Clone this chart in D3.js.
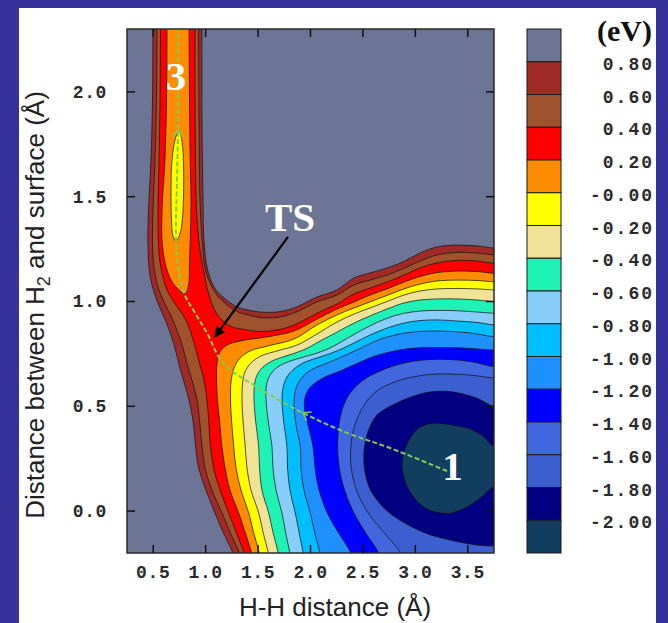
<!DOCTYPE html>
<html>
<head>
<meta charset="utf-8">
<script src="https://cdn.jsdelivr.net/npm/d3@7"></script>
<style>
  body { margin: 0; background: #35339a; }
  svg { display: block; }
</style>
</head>
<body>
<svg id="drawing_region"></svg>
<script>
// ---- data (in Å / eV) ----
const xTicks = [0.5, 1.0, 1.5, 2.0, 2.5, 3.0, 3.5];
const yTicks = [0.0, 0.5, 1.0, 1.5, 2.0];
const cbLevels = [0.8, 0.6, 0.4, 0.2, 0.0, -0.2, -0.4, -0.6, -0.8, -1.0, -1.2, -1.4, -1.6, -1.8, -2.0];
const cbLabels = ["0.80", "0.60", "0.40", "0.20", "-0.00", "-0.20", "-0.40", "-0.60", "-0.80",
                  "-1.00", "-1.20", "-1.40", "-1.60", "-1.80", "-2.00"];
// band colours, highest band (> 0.8 eV) first
const bandColors = ["#6c7596", "#a02a28", "#a0522d", "#ff0000", "#ff8c00", "#ffff00", "#f0e396",
                    "#1ef2b4", "#87cefa", "#00bfff", "#1e90ff", "#0000ff", "#4166dd", "#3b5fd0",
                    "#000080", "#113d5e"];

// contour lines [H-H distance, height]
const c080_left = [[0.498,2.36],[0.493,1.961],[0.479,1.675],[0.455,1.436],[0.450,1.269],[0.469,1.126],[0.527,1.017],[0.603,0.926],[0.670,0.840],[0.717,0.759],[0.755,0.683],[0.794,0.616],[0.841,0.530],[0.879,0.435],[0.903,0.315],[0.927,0.220],[0.975,0.139],[1.032,0.062],[1.089,-0.009],[1.166,-0.100],[1.261,-0.200],[1.299,-0.26]];
const c080_right = [[3.82,1.255],[3.750,1.255],[3.588,1.265],[3.397,1.269],[3.207,1.260],[3.044,1.231],[2.892,1.191],[2.730,1.160],[2.567,1.136],[2.415,1.112],[2.253,1.055],[2.062,1.021],[1.843,0.969],[1.681,0.950],[1.518,0.950],[1.404,0.959],[1.299,0.974],[1.175,1.017],[1.080,1.069],[1.013,1.164],[0.984,1.293],[0.975,1.484],[0.965,1.866],[0.965,2.36]];
const c060_left = [[0.536,2.36],[0.531,1.961],[0.517,1.675],[0.498,1.436],[0.493,1.269],[0.508,1.160],[0.546,1.069],[0.603,0.998],[0.679,0.921],[0.736,0.850],[0.784,0.778],[0.822,0.702],[0.870,0.625],[0.918,0.530],[0.946,0.411],[0.965,0.306],[0.994,0.206],[1.042,0.124],[1.099,0.053],[1.156,-0.009],[1.232,-0.100],[1.323,-0.200],[1.361,-0.26]];
const c060_right = [[3.82,1.222],[3.750,1.222],[3.588,1.231],[3.397,1.234],[3.207,1.222],[3.044,1.193],[2.892,1.158],[2.730,1.126],[2.567,1.102],[2.415,1.079],[2.253,1.031],[2.062,0.998],[1.843,0.945],[1.681,0.924],[1.518,0.924],[1.404,0.936],[1.299,0.952],[1.194,0.988],[1.108,1.031],[1.042,1.088],[0.994,1.160],[0.970,1.269],[0.946,1.484],[0.937,1.866],[0.932,2.36]];
const c040_left = [[0.570,2.36],[0.565,1.961],[0.555,1.675],[0.546,1.436],[0.550,1.269],[0.574,1.160],[0.632,1.055],[0.717,0.983],[0.803,0.921],[0.860,0.850],[0.908,0.768],[0.946,0.697],[0.984,0.625],[1.013,0.530],[1.032,0.411],[1.046,0.306],[1.080,0.196],[1.137,0.100],[1.220,-0.009],[1.290,-0.100],[1.366,-0.200],[1.399,-0.26]];
const c040_right = [[3.82,1.182],[3.750,1.182],[3.588,1.193],[3.397,1.196],[3.207,1.184],[3.044,1.160],[2.892,1.126],[2.730,1.093],[2.567,1.064],[2.415,1.036],[2.253,0.988],[2.110,0.955],[1.995,0.926],[1.843,0.888],[1.681,0.864],[1.518,0.857],[1.375,0.866],[1.232,0.883],[1.108,0.940],[1.032,1.031],[0.989,1.126],[0.946,1.246],[0.913,1.436],[0.903,1.675],[0.899,1.961],[0.899,2.36]];
const c020_chan = [[0.632,2.36],[0.627,1.961],[0.612,1.675],[0.584,1.436],[0.584,1.293],[0.612,1.188],[0.670,1.102],[0.746,1.055],[0.803,1.036],[0.837,1.079],[0.846,1.198],[0.856,1.341],[0.860,1.484],[0.851,1.723],[0.846,1.961],[0.841,2.36]];
const c020_low = [[1.466,-0.26],[1.439,-0.200],[1.375,-0.100],[1.315,-0.009],[1.232,0.100],[1.185,0.206],[1.156,0.306],[1.132,0.435],[1.113,0.530],[1.104,0.625],[1.108,0.702],[1.137,0.759],[1.204,0.792],[1.356,0.814],[1.585,0.831],[1.843,0.859],[2.062,0.916],[2.253,0.964],[2.415,0.998],[2.567,1.031],[2.730,1.060],[2.892,1.093],[3.044,1.119],[3.207,1.138],[3.397,1.145],[3.588,1.143],[3.750,1.134],[3.82,1.134]];
const c000_chan = [[0.746,1.813],[0.775,1.761],[0.789,1.651],[0.789,1.508],[0.779,1.398],[0.755,1.322],[0.717,1.288],[0.689,1.312],[0.674,1.389],[0.670,1.508],[0.674,1.637],[0.693,1.732],[0.722,1.794]];
const c000_low = [[1.537,-0.26],[1.512,-0.200],[1.456,-0.100],[1.411,-0.009],[1.337,0.100],[1.290,0.206],[1.268,0.306],[1.247,0.435],[1.237,0.530],[1.242,0.616],[1.271,0.683],[1.328,0.730],[1.423,0.764],[1.595,0.788],[1.843,0.821],[2.062,0.888],[2.253,0.936],[2.415,0.969],[2.567,0.998],[2.730,1.029],[2.892,1.060],[3.044,1.083],[3.207,1.098],[3.397,1.102],[3.588,1.100],[3.750,1.094],[3.82,1.094]];
const cm020 = [[1.623,-0.26],[1.598,-0.200],[1.547,-0.100],[1.506,-0.009],[1.433,0.100],[1.394,0.206],[1.378,0.306],[1.356,0.435],[1.347,0.530],[1.352,0.611],[1.375,0.664],[1.433,0.707],[1.528,0.740],[1.681,0.764],[1.871,0.792],[2.062,0.845],[2.253,0.902],[2.415,0.940],[2.567,0.969],[2.730,1.000],[2.892,1.031],[3.044,1.050],[3.207,1.060],[3.397,1.062],[3.588,1.060],[3.750,1.055],[3.82,1.055]];
const cm040 = [[1.719,-0.26],[1.693,-0.200],[1.642,-0.100],[1.601,-0.009],[1.537,0.100],[1.514,0.206],[1.506,0.306],[1.476,0.435],[1.461,0.530],[1.466,0.602],[1.490,0.649],[1.547,0.687],[1.633,0.716],[1.766,0.740],[1.929,0.768],[2.091,0.811],[2.253,0.854],[2.415,0.897],[2.567,0.931],[2.730,0.964],[2.892,0.993],[3.044,1.007],[3.207,1.012],[3.397,1.012],[3.588,1.007],[3.750,0.999],[3.82,0.999]];
const cm060 = [[1.833,-0.26],[1.804,-0.200],[1.762,-0.100],[1.728,-0.009],[1.671,0.100],[1.642,0.206],[1.633,0.306],[1.595,0.435],[1.576,0.530],[1.576,0.587],[1.600,0.635],[1.652,0.673],[1.738,0.702],[1.871,0.726],[2.033,0.749],[2.186,0.778],[2.339,0.821],[2.491,0.864],[2.644,0.902],[2.806,0.933],[2.968,0.950],[3.140,0.957],[3.330,0.957],[3.521,0.952],[3.750,0.944],[3.82,0.944]];
const cm080 = [[1.957,-0.26],[1.931,-0.200],[1.890,-0.100],[1.855,-0.009],[1.804,0.100],[1.781,0.206],[1.776,0.306],[1.743,0.435],[1.728,0.530],[1.738,0.587],[1.776,0.640],[1.843,0.678],[1.948,0.711],[2.091,0.735],[2.253,0.764],[2.415,0.802],[2.567,0.840],[2.730,0.873],[2.892,0.897],[3.044,0.909],[3.207,0.912],[3.397,0.907],[3.588,0.900],[3.750,0.888],[3.82,0.888]];
const cm100 = [[2.119,-0.26],[2.091,-0.200],[2.038,-0.100],[1.998,-0.009],[1.938,0.100],[1.909,0.206],[1.903,0.306],[1.862,0.411],[1.843,0.506],[1.857,0.578],[1.900,0.625],[1.967,0.661],[2.062,0.687],[2.186,0.711],[2.339,0.745],[2.491,0.780],[2.644,0.816],[2.806,0.840],[2.968,0.854],[3.140,0.859],[3.330,0.857],[3.521,0.850],[3.750,0.832],[3.82,0.832]];
const cm120 = [[2.420,-0.26],[2.385,-0.200],[2.262,-0.100],[2.160,-0.009],[2.082,0.100],[2.043,0.206],[2.024,0.306],[1.976,0.411],[1.945,0.480],[1.945,0.535],[1.980,0.580],[2.043,0.611],[2.138,0.640],[2.281,0.668],[2.434,0.702],[2.587,0.735],[2.758,0.759],[2.949,0.776],[3.140,0.780],[3.330,0.780],[3.521,0.776],[3.750,0.768],[3.82,0.768]];
const cm140 = [[2.680,-0.26],[2.650,-0.200],[2.520,-0.100],[2.400,0.005],[2.310,0.124],[2.265,0.244],[2.262,0.363],[2.300,0.482],[2.377,0.563],[2.491,0.621],[2.644,0.664],[2.806,0.695],[2.968,0.714],[3.140,0.723],[3.330,0.723],[3.521,0.714],[3.750,0.689],[3.82,0.689]];
const cm160 = [[2.900,-0.26],[2.860,-0.200],[2.720,-0.114],[2.565,-0.019],[2.445,0.091],[2.385,0.220],[2.392,0.339],[2.440,0.435],[2.525,0.516],[2.634,0.573],[2.777,0.611],[2.949,0.637],[3.140,0.652],[3.330,0.654],[3.521,0.649],[3.750,0.635],[3.82,0.635]];
const cm180 = [[3.82,0.497],[3.750,0.498],[3.588,0.538],[3.333,0.570],[3.140,0.568],[3.016,0.554],[2.825,0.516],[2.634,0.458],[2.548,0.377],[2.510,0.282],[2.520,0.187],[2.577,0.096],[2.711,0.010],[2.882,-0.052],[3.092,-0.104],[3.330,-0.138],[3.588,-0.162],[3.750,-0.167],[3.82,-0.167]];
const cm200 = [[3.82,0.307],[3.750,0.307],[3.652,0.355],[3.521,0.392],[3.429,0.403],[3.292,0.415],[3.175,0.419],[3.044,0.401],[2.984,0.371],[2.911,0.311],[2.873,0.228],[2.892,0.158],[2.949,0.091],[3.044,0.034],[3.159,0.000],[3.330,-0.011],[3.474,0.015],[3.598,0.053],[3.750,0.116],[3.82,0.116]];

// reaction path from minimum 1 through TS up to 3
const pathPts = [[3.302,0.191],[2.758,0.301],[2.348,0.373],[1.929,0.468],[1.490,0.592],[1.166,0.707],[1.013,0.850],[0.899,0.945],[0.794,1.040],[0.736,1.174],[0.717,1.308],[0.727,1.580],[0.736,1.818],[0.736,2.057],[0.736,2.300]];
const pathArrowAt = [3, 12];   // indices of the chevrons
const labels = [{t: "1", x: 3.354, y: 0.148}, {t: "3", x: 0.717, y: 2.009}, {t: "TS", x: 1.805, y: 1.336}];
const tsArrow = [[1.785, 1.308], [1.089, 0.831]];

// ---- layout ----
const W = 668, H = 623;
const plot = {left: 127, right: 494, top: 29, bottom: 553};
const cb = {left: 527, right: 561};

const svg = d3.select("#drawing_region").attr("width", W).attr("height", H);
svg.append("rect").attr("width", W).attr("height", H).attr("fill", "#35339a");
svg.append("rect").attr("x", 19).attr("y", 8).attr("width", 637).attr("height", 615).attr("fill", "#ffffff");

const xscale = d3.scaleLinear().domain([0.25, 3.75]).range([plot.left, plot.right]);
const yscale = d3.scaleLinear().domain([-0.2, 2.3]).range([plot.bottom, plot.top]);

svg.append("clipPath").attr("id", "clip").append("rect")
    .attr("x", plot.left).attr("y", plot.top)
    .attr("width", plot.right - plot.left).attr("height", plot.bottom - plot.top);

const chart = svg.append("g").attr("clip-path", "url(#clip)");

const line = d3.line().x(d => xscale(d[0])).y(d => yscale(d[1])).curve(d3.curveCatmullRom.alpha(0.5));
const closedLine = d3.line().x(d => xscale(d[0])).y(d => yscale(d[1])).curve(d3.curveCatmullRomClosed.alpha(0.5));
const corner = `L${xscale(4.2)},${yscale(-0.5)}`;

// region E < level, painted from the highest level down
const regions = [
    {c: bandColors[1], type: "lr", parts: [c080_left, c080_right]},
    {c: bandColors[2], type: "lr", parts: [c060_left, c060_right]},
    {c: bandColors[3], type: "lr", parts: [c040_left, c040_right]},
    {c: bandColors[4], type: "edge", parts: [c020_chan]},
    {c: bandColors[4], type: "low", parts: [c020_low]},
    {c: bandColors[5], type: "closed", parts: [c000_chan]},
    {c: bandColors[5], type: "low", parts: [c000_low]},
    {c: bandColors[6], type: "low", parts: [cm020]},
    {c: bandColors[7], type: "low", parts: [cm040]},
    {c: bandColors[8], type: "low", parts: [cm060]},
    {c: bandColors[9], type: "low", parts: [cm080]},
    {c: bandColors[10], type: "low", parts: [cm100]},
    {c: bandColors[11], type: "low", parts: [cm120]},
    {c: bandColors[12], type: "low", parts: [cm140]},
    {c: bandColors[13], type: "low", parts: [cm160]},
    {c: bandColors[14], type: "edge", parts: [cm180]},
    {c: bandColors[15], type: "edge", parts: [cm200]}
];

function regionPath(r) {
    if (r.type === "lr") return line(r.parts[0]) + corner + line(r.parts[1]).replace(/^M/, "L") + "Z";
    if (r.type === "low") return line(r.parts[0]) + corner + "Z";
    if (r.type === "edge") return line(r.parts[0]) + "Z";
    return closedLine(r.parts[0]);
}

chart.append("rect")
    .attr("x", plot.left).attr("y", plot.top)
    .attr("width", plot.right - plot.left).attr("height", plot.bottom - plot.top)
    .attr("fill", bandColors[0]);

chart.selectAll("path.band").data(regions).enter().append("path")
    .attr("class", "band")
    .attr("d", regionPath)
    .attr("fill", d => d.c);

// thin black contour lines
regions.forEach(r => {
    r.parts.forEach(p => {
        chart.append("path")
            .attr("d", r.type === "closed" ? closedLine(p) : line(p))
            .attr("fill", "none")
            .attr("stroke", "#111")
            .attr("stroke-opacity", 0.8)
            .attr("stroke-width", 0.9);
    });
});

// reaction path
const pathLine = d3.line().x(d => xscale(d[0])).y(d => yscale(d[1])).curve(d3.curveCatmullRom);
chart.append("path")
    .attr("d", pathLine(pathPts))
    .attr("fill", "none")
    .attr("stroke", "#84cc52")
    .attr("stroke-width", 2)
    .attr("stroke-dasharray", "5,2.5");

pathArrowAt.forEach(i => {
    const p = pathPts[i], q = pathPts[i + 1];
    const px = xscale(p[0]), py = yscale(p[1]);
    const ang = Math.atan2(yscale(q[1]) - py, xscale(q[0]) - px);
    chart.append("path")
        .attr("d", "M-7,-5L0,0L-7,5")
        .attr("transform", `translate(${px},${py}) rotate(${ang * 180 / Math.PI})`)
        .attr("fill", "none")
        .attr("stroke", "#84cc52")
        .attr("stroke-width", 1.6);
});

// TS arrow
svg.append("defs").append("marker")
    .attr("id", "head").attr("viewBox", "0 0 10 10")
    .attr("refX", 9).attr("refY", 5)
    .attr("markerWidth", 5).attr("markerHeight", 5)
    .attr("orient", "auto")
    .append("path").attr("d", "M0,0L10,5L0,10Z").attr("fill", "#000");

chart.append("line")
    .attr("x1", xscale(tsArrow[0][0])).attr("y1", yscale(tsArrow[0][1]))
    .attr("x2", xscale(tsArrow[1][0])).attr("y2", yscale(tsArrow[1][1]))
    .attr("stroke", "#000").attr("stroke-width", 2.2)
    .attr("marker-end", "url(#head)");

chart.selectAll("text.lab").data(labels).enter().append("text")
    .attr("class", "lab")
    .attr("x", d => xscale(d.x)).attr("y", d => yscale(d.y))
    .attr("text-anchor", "middle")
    .attr("font-family", "Liberation Serif, serif")
    .attr("font-weight", "bold")
    .attr("font-size", 41)
    .attr("fill", "#ffffff")
    .text(d => d.t);

// frame and inward ticks
svg.append("rect")
    .attr("x", plot.left).attr("y", plot.top)
    .attr("width", plot.right - plot.left).attr("height", plot.bottom - plot.top)
    .attr("fill", "none").attr("stroke", "#2a2a2a").attr("stroke-width", 1.5);

const tk = 8;
const ticks = svg.append("g").attr("stroke", "#111").attr("stroke-width", 1.5);
xTicks.forEach(v => {
    ticks.append("line").attr("x1", xscale(v)).attr("x2", xscale(v)).attr("y1", plot.bottom).attr("y2", plot.bottom - tk);
    ticks.append("line").attr("x1", xscale(v)).attr("x2", xscale(v)).attr("y1", plot.top).attr("y2", plot.top + tk);
});
yTicks.forEach(v => {
    ticks.append("line").attr("y1", yscale(v)).attr("y2", yscale(v)).attr("x1", plot.left).attr("x2", plot.left + tk);
    ticks.append("line").attr("y1", yscale(v)).attr("y2", yscale(v)).attr("x1", plot.right).attr("x2", plot.right - tk);
});

const mono = "Liberation Mono, Courier New, monospace";
svg.selectAll("text.xt").data(xTicks).enter().append("text")
    .attr("class", "xt")
    .attr("x", d => xscale(d)).attr("y", 578)
    .attr("text-anchor", "middle")
    .attr("font-family", mono).attr("font-weight", "bold").attr("font-size", 18)
    .attr("letter-spacing", 0.6)
    .attr("fill", "#2a2a2a")
    .text(d => d.toFixed(1));

svg.selectAll("text.yt").data(yTicks).enter().append("text")
    .attr("class", "yt")
    .attr("x", 107).attr("y", d => yscale(d) + 6)
    .attr("text-anchor", "end")
    .attr("font-family", mono).attr("font-weight", "bold").attr("font-size", 18)
    .attr("letter-spacing", 0.6)
    .attr("fill", "#2a2a2a")
    .text(d => d.toFixed(1));

svg.append("text")
    .attr("x", 335).attr("y", 616)
    .attr("text-anchor", "middle")
    .attr("font-family", "Liberation Sans, Arial, sans-serif").attr("font-size", 26)
    .attr("fill", "#222")
    .text("H-H distance (Å)");

const ytitle = svg.append("text")
    .attr("transform", "translate(44,305) rotate(-90)")
    .attr("text-anchor", "middle")
    .attr("font-family", "Liberation Sans, Arial, sans-serif").attr("font-size", 26)
    .attr("fill", "#222");
ytitle.append("tspan").text("Distance between H");
ytitle.append("tspan").attr("font-size", 18).attr("dy", 6).text("2");
ytitle.append("tspan").attr("dy", -6).text(" and surface (Å)");

// colour bar
const cbscale = d3.scaleLinear().domain([1.0, -2.2]).range([plot.top, plot.bottom]);
const cbBounds = [1.0].concat(cbLevels, [-2.2]);
svg.selectAll("rect.cb").data(bandColors).enter().append("rect")
    .attr("class", "cb")
    .attr("x", cb.left).attr("width", cb.right - cb.left)
    .attr("y", (d, i) => cbscale(cbBounds[i]))
    .attr("height", (d, i) => cbscale(cbBounds[i + 1]) - cbscale(cbBounds[i]))
    .attr("fill", d => d)
    .attr("stroke", "#1a1a1a").attr("stroke-width", 1);

svg.selectAll("text.cbl").data(cbLevels).enter().append("text")
    .attr("class", "cbl")
    .attr("x", 654).attr("y", d => cbscale(d) + 8)
    .attr("text-anchor", "end")
    .attr("font-family", mono).attr("font-weight", "bold").attr("font-size", 18)
    .attr("letter-spacing", 2)
    .attr("fill", "#2a2a2a")
    .text((d, i) => cbLabels[i]);

svg.append("text")
    .attr("x", 652).attr("y", 41)
    .attr("text-anchor", "end")
    .attr("font-family", "Liberation Serif, serif").attr("font-weight", "bold").attr("font-size", 30)
    .attr("fill", "#111")
    .text("(eV)");
</script>
</body>
</html>
